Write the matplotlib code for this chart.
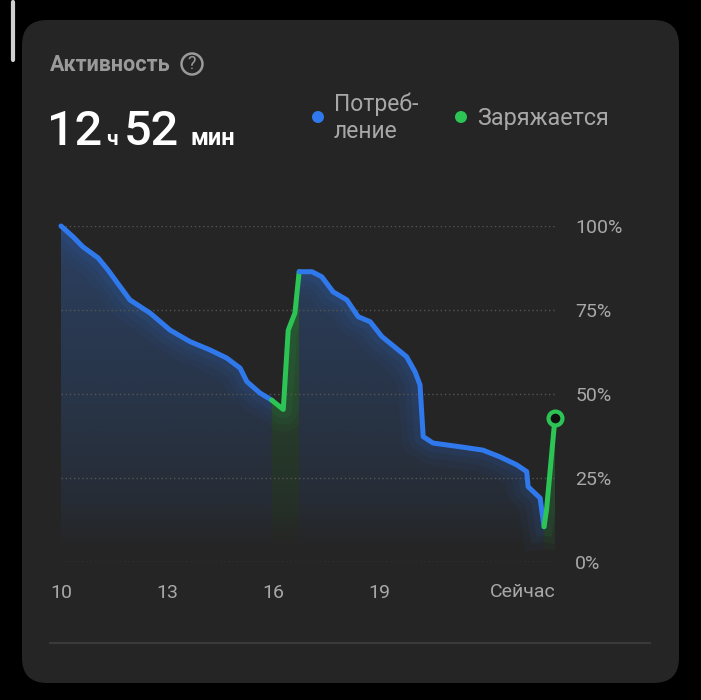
import numpy as np
import matplotlib
matplotlib.use('Agg')
import matplotlib.pyplot as plt
from matplotlib.patches import FancyBboxPatch, Polygon, Circle
from matplotlib.lines import Line2D

plt.rcParams['font.family'] = ['Roboto', 'DejaVu Sans']

# battery level, hours of the day vs percent
hours = [10.0, 10.34, 10.62, 11.05, 11.33, 11.67, 11.95, 12.52, 13.09, 13.65,
         14.22, 14.69, 15.07, 15.26, 15.63, 15.96,
         16.29, 16.43, 16.62, 16.74,
         17.10, 17.38, 17.70, 18.09, 18.41, 18.75, 19.08, 19.78, 20.02, 20.16,
         20.25, 20.53, 21.29, 21.94, 22.42, 22.90, 23.18, 23.22, 23.56, 23.67,
         23.74, 23.98]
battery = [100, 96.8, 93.8, 90.5, 86.9, 82.0, 78.0, 74.1, 69.0, 65.6,
           63.1, 60.7, 57.7, 53.7, 50.3, 48.2,
           45.4, 69.0, 74.1, 86.4,
           86.4, 84.9, 80.4, 78.0, 73.0, 71.5, 67.1, 61.1, 56.6, 52.7,
           37.3, 35.4, 34.3, 33.3, 31.3, 28.9, 26.9, 22.4, 19.0, 10.5,
           15.5, 42.9]
charge_periods = [(15.96, 16.74), (23.67, 23.98)]

x_ticks = [10, 13, 16, 19]
x_labels = ['10', '13', '16', '19']
now_label = 'Сейчас'
y_ticks = [0, 25, 50, 75, 100]
y_labels = ['0%', '25%', '50%', '75%', '100%']

title = 'Активность'
hours_val, mins_val = '12', '52'
legend_labels = ['Потреб-\nление', 'Заряжается']

BG = '#252525'
BLUE = '#3079ec'
GREEN = '#2cc455'
GREY = '#a8a8a8'

W, H = 701, 700
fig = plt.figure(figsize=(W / 100, H / 100), dpi=100, facecolor='black')


def fx(x):
    return x / W


def fy(y):
    return 1 - y / H


# card
card = FancyBboxPatch((fx(22), fy(683)), fx(679) - fx(22), fy(20) - fy(683),
                      boxstyle='round,pad=0,rounding_size=0.036',
                      transform=fig.transFigure, facecolor=BG, edgecolor='none', zorder=-10)
fig.patches.append(card)
fig.lines.append(Line2D([fx(13), fx(13)], [fy(2), fy(60)], transform=fig.transFigure,
                        color='#d0d0d0', lw=3, solid_capstyle='round'))
fig.lines.append(Line2D([fx(50), fx(650)], [fy(643), fy(643)], transform=fig.transFigure,
                        color='#3a3a3a', lw=1.5))

# header
fig.text(fx(50), fy(65), title, fontsize=15.5, fontweight='bold', color='#9a9a9a', va='center')
fig.patches.append(Circle((fx(192), fy(64)), 10.5 / W, transform=fig.transFigure,
                          facecolor='none', edgecolor='#9a9a9a', lw=1.8))
fig.text(fx(192), fy(64), '?', fontsize=13, color='#9a9a9a', ha='center', va='center')

base = fy(145)
fig.text(fx(47), base, hours_val, fontsize=35, fontweight='medium', color='white', va='baseline')
fig.text(fx(106), base, 'ч', fontsize=15, fontweight='bold', color='white', va='baseline')
fig.text(fx(124), base, mins_val, fontsize=35, fontweight='medium', color='white', va='baseline')
fig.text(fx(190), base, 'мин', fontsize=17, fontweight='bold', color='white', va='baseline')

# legend
fig.patches.append(Circle((fx(318), fy(117)), 6 / W, transform=fig.transFigure,
                          facecolor=BLUE, edgecolor='none'))
fig.text(fx(334), fy(118), legend_labels[0], fontsize=16.5, color=GREY, va='center',
         linespacing=1.2)
fig.patches.append(Circle((fx(461), fy(117)), 6 / W, transform=fig.transFigure,
                          facecolor=GREEN, edgecolor='none'))
fig.text(fx(477), fy(118), legend_labels[1], fontsize=16.8, color=GREY, va='center')

# chart axes: x 10..24 h maps to px 61..555.7, y 0..100 maps to px 562..226
ax = fig.add_axes([fx(61), fy(562), (555.7 - 61) / W, (562 - 226) / H])
ax.set_facecolor('none')
ax.set_xlim(10, 24)
ax.set_ylim(0, 100)
for s in ax.spines.values():
    s.set_visible(False)

ax.hlines(y_ticks, 10, 24, colors='#555555', linestyles=(0, (1, 2)), lw=1, zorder=2)


def is_charging(a, b):
    return any(a >= s - 1e-6 and b <= e + 1e-6 for s, e in charge_periods)


# split into runs of the same state
runs = []
cur = [0]
state = is_charging(hours[0], hours[1])
for i in range(len(hours) - 1):
    st = is_charging(hours[i], hours[i + 1])
    if st != state:
        runs.append((state, cur))
        cur = [i]
        state = st
    cur.append(i + 1)
runs.append((state, cur))

yy = np.linspace(0, 100, 400)[:, None]
for charging, idx in runs:
    xs = [hours[i] for i in idx]
    ys = [battery[i] for i in idx]
    verts = list(zip(xs, ys)) + [(xs[-1], 0), (xs[0], 0)]
    poly = Polygon(verts, closed=True, transform=ax.transData)
    if charging:
        rgb = matplotlib.colors.to_rgb('#2a8a40')
        alpha = np.interp(yy, [0, 4, 18, 48, 100], [0, 0, 0.12, 0.25, 0.4])
    else:
        rgb = matplotlib.colors.to_rgb('#2d4a78')
        alpha = np.interp(yy, [0, 4, 18, 48, 100], [0, 0, 0.2, 0.42, 0.72])
    img = np.zeros((400, 2, 4))
    img[..., :3] = rgb
    img[..., 3] = alpha
    im = ax.imshow(img, extent=[10, 24, 0, 100], origin='lower', aspect='auto',
                   interpolation='bilinear', zorder=1)
    im.set_clip_path(poly)
    col = GREEN if charging else BLUE
    for lw, a in [(32, 0.04), (22, 0.05), (13, 0.07)]:
        gl, = ax.plot(xs, ys, color=col, lw=lw, alpha=a, solid_joinstyle='round', zorder=1.5)
        gl.set_clip_path(poly)

for charging, idx in runs:
    xs = [hours[i] for i in idx]
    ys = [battery[i] for i in idx]
    ax.plot(xs, ys, color=GREEN if charging else BLUE, lw=3.6,
            solid_joinstyle='round', solid_capstyle='round', zorder=4, clip_on=False)

ax.plot([hours[-1]], [battery[-1]], marker='o', ms=10, mfc='#111111', mec=GREEN,
        mew=3, zorder=5, clip_on=False)

ax.set_xticks(x_ticks)
ax.set_xticklabels(x_labels)
ax.set_yticks(y_ticks)
ax.set_yticklabels(y_labels)
ax.yaxis.tick_right()
ax.tick_params(axis='both', length=0, labelsize=14, labelcolor=GREY)
ax.tick_params(axis='y', pad=14)
ax.tick_params(axis='x', pad=16)
ax.text(24, -9.0, now_label, fontsize=14, color=GREY, ha='right', va='center',
        transform=ax.transData, clip_on=False)

fig.savefig('out.png', dpi=100, facecolor='black')
